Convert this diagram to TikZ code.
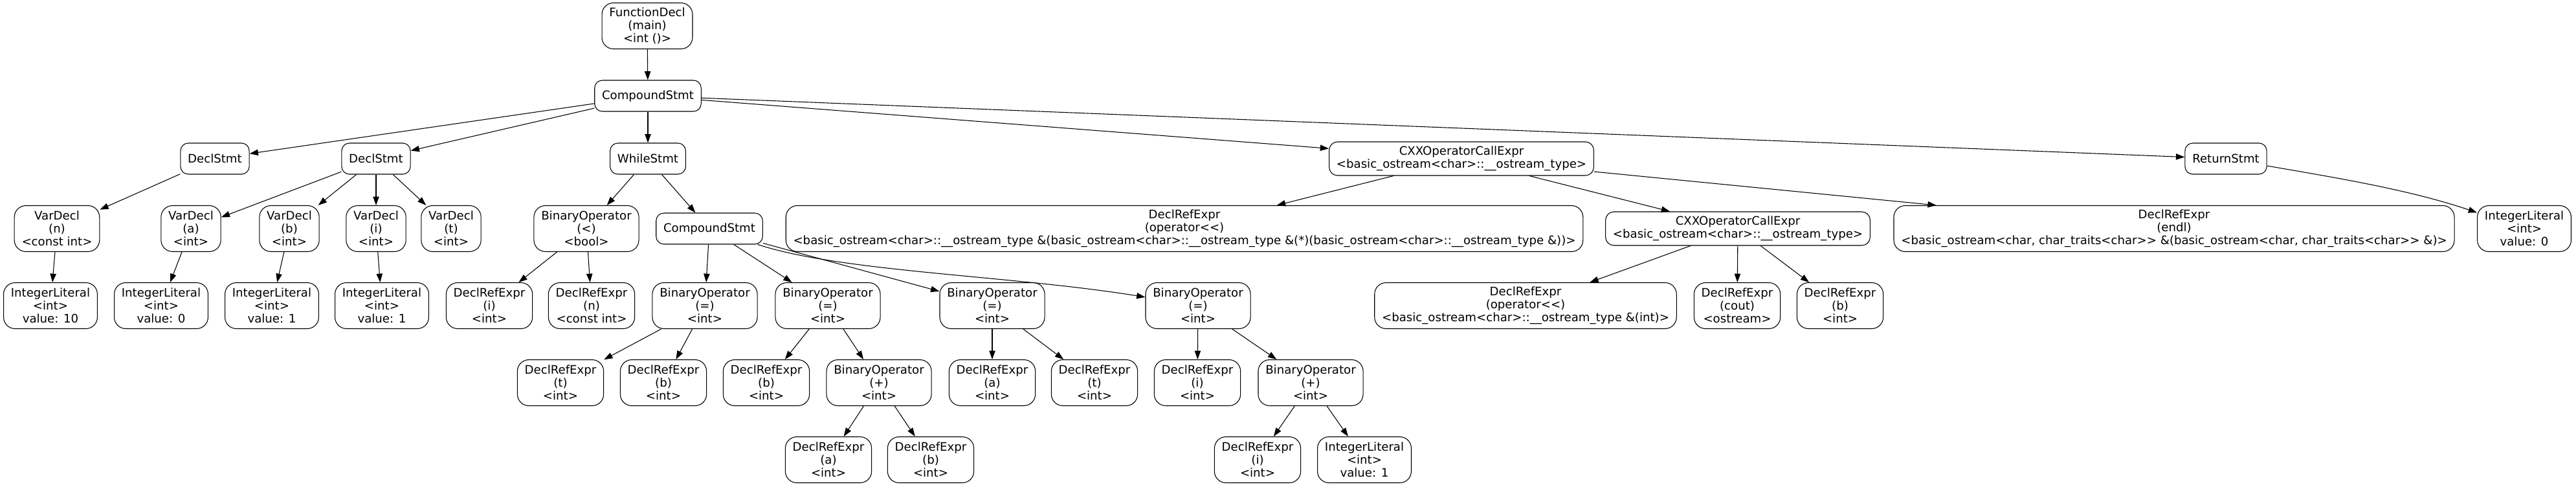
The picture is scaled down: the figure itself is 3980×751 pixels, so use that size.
\documentclass[tikz,border=0pt]{standalone}
\usepackage{fontspec}
\setmainfont{DejaVu Sans}[Ligatures=TeXOff]
\usepackage{tikz}
\usetikzlibrary{arrows.meta}

\tikzset{
  ast/.style={draw, line width=0.8pt, rounded corners=9pt, align=center,
    inner xsep=8.5pt, inner ysep=4pt, minimum height=36pt, minimum width=54pt,
    font=\fontsize{13.6pt}{15pt}\selectfont},
  asttwo/.style={ast, rounded corners=9.75pt, minimum height=39pt},
  astthree/.style={ast, rounded corners=13.3pt, minimum height=53.25pt},
  edge/.style={line width=0.8pt, -{Triangle[length=10pt,width=7pt]}}
}

\begin{document}
\begin{tikzpicture}[x=0.75pt,y=-0.75pt]
\useasboundingbox (0,0) rectangle (3980,751);

\node[astthree] (fdecl) at (1000,40) {FunctionDecl\\(main)\\<int ()>};
\node[ast] (cstmt) at (1001,148) {CompoundStmt};

\node[ast] (dstmtA) at (332,245) {DeclStmt};
\node[ast] (dstmtB) at (581,245) {DeclStmt};
\node[ast] (wstmt) at (1001,245) {WhileStmt};
\node[asttwo] (opcall) at (2258,245) {CXXOperatorCallExpr\\<basic\_ostream<char>::\_\_ostream\_type>};
\node[ast] (rstmt) at (3439,245) {ReturnStmt};

\node[astthree] (vdN) at (88,353) {VarDecl\\(n)\\<const int>};
\node[astthree] (vdA) at (295,353) {VarDecl\\(a)\\<int>};
\node[astthree] (vdB) at (447,353) {VarDecl\\(b)\\<int>};
\node[astthree] (vdI) at (581,353) {VarDecl\\(i)\\<int>};
\node[astthree] (vdT) at (697,353) {VarDecl\\(t)\\<int>};
\node[astthree] (binLt) at (906,353) {BinaryOperator\\(<)\\<bool>};
\node[ast] (cstmtB) at (1096,353) {CompoundStmt};
\node[astthree] (refShl) at (1830,353) {DeclRefExpr\\(operator<<)\\<basic\_ostream<char>::\_\_ostream\_type \&(basic\_ostream<char>::\_\_ostream\_type \&(*)(basic\_ostream<char>::\_\_ostream\_type \&))>};
\node[asttwo] (opcallB) at (2685,353) {CXXOperatorCallExpr\\<basic\_ostream<char>::\_\_ostream\_type>};
\node[astthree] (refEndl) at (3359,353) {DeclRefExpr\\(endl)\\<basic\_ostream<char, char\_traits<char>> \&(basic\_ostream<char, char\_traits<char>> \&)>};
\node[astthree] (litZero) at (3900,353) {IntegerLiteral\\<int>\\value: 0};

\node[astthree] (litTen) at (78,472) {IntegerLiteral\\<int>\\value: 10};
\node[astthree] (litA) at (249,472) {IntegerLiteral\\<int>\\value: 0};
\node[astthree] (litB) at (420,472) {IntegerLiteral\\<int>\\value: 1};
\node[astthree] (litI) at (590,472) {IntegerLiteral\\<int>\\value: 1};
\node[astthree] (refI) at (756,472) {DeclRefExpr\\(i)\\<int>};
\node[astthree] (refN) at (914,472) {DeclRefExpr\\(n)\\<const int>};
\node[astthree] (asgA) at (1089,472) {BinaryOperator\\(=)\\<int>};
\node[astthree] (asgB) at (1279,472) {BinaryOperator\\(=)\\<int>};
\node[astthree] (asgC) at (1533,472) {BinaryOperator\\(=)\\<int>};
\node[astthree] (asgD) at (1851,472) {BinaryOperator\\(=)\\<int>};
\node[astthree] (refShlInt) at (2357,472) {DeclRefExpr\\(operator<<)\\<basic\_ostream<char>::\_\_ostream\_type \&(int)>};
\node[astthree] (refCout) at (2684,472) {DeclRefExpr\\(cout)\\<ostream>};
\node[astthree] (refB) at (2843,472) {DeclRefExpr\\(b)\\<int>};

\node[astthree] (refT) at (866,591) {DeclRefExpr\\(t)\\<int>};
\node[astthree] (refBa) at (1025,591) {DeclRefExpr\\(b)\\<int>};
\node[astthree] (refBb) at (1184,591) {DeclRefExpr\\(b)\\<int>};
\node[astthree] (addA) at (1358,591) {BinaryOperator\\(+)\\<int>};
\node[astthree] (refAa) at (1533,591) {DeclRefExpr\\(a)\\<int>};
\node[astthree] (refTa) at (1691,591) {DeclRefExpr\\(t)\\<int>};
\node[astthree] (refIa) at (1850,591) {DeclRefExpr\\(i)\\<int>};
\node[astthree] (addB) at (2025,591) {BinaryOperator\\(+)\\<int>};

\node[astthree] (refAb) at (1280,710) {DeclRefExpr\\(a)\\<int>};
\node[astthree] (refBc) at (1438,710) {DeclRefExpr\\(b)\\<int>};
\node[astthree] (refIb) at (1943,710) {DeclRefExpr\\(i)\\<int>};
\node[astthree] (litOne) at (2108,710) {IntegerLiteral\\<int>\\value: 1};

\draw[edge] (fdecl) -- (cstmt);
\draw[edge] (cstmt) -- (dstmtA);
\draw[edge] (cstmt) -- (dstmtB);
\draw[edge] (cstmt) -- (wstmt);
\draw[edge] (cstmt) -- (opcall);
\draw[edge] (cstmt) -- (rstmt);

\draw[edge] (dstmtA) -- (vdN);
\draw[edge] (dstmtB) -- (vdA);
\draw[edge] (dstmtB) -- (vdB);
\draw[edge] (dstmtB) -- (vdI);
\draw[edge] (dstmtB) -- (vdT);
\draw[edge] (vdN) -- (litTen);
\draw[edge] (vdA) -- (litA);
\draw[edge] (vdB) -- (litB);
\draw[edge] (vdI) -- (litI);

\draw[edge] (wstmt) -- (binLt);
\draw[edge] (wstmt) -- (cstmtB);
\draw[edge] (binLt) -- (refI);
\draw[edge] (binLt) -- (refN);
\draw[edge] (cstmtB) -- (asgA);
\draw[edge] (cstmtB) -- (asgB);
\draw[edge] (cstmtB) -- (asgC);
\draw[edge] (cstmtB) .. controls (1300,420) and (1560,425) .. (asgD);
\draw[edge] (asgA) -- (refT);
\draw[edge] (asgA) -- (refBa);
\draw[edge] (asgB) -- (refBb);
\draw[edge] (asgB) -- (addA);
\draw[edge] (addA) -- (refAb);
\draw[edge] (addA) -- (refBc);
\draw[edge] (asgC) -- (refAa);
\draw[edge] (asgC) -- (refTa);
\draw[edge] (asgD) -- (refIa);
\draw[edge] (asgD) -- (addB);
\draw[edge] (addB) -- (refIb);
\draw[edge] (addB) -- (litOne);

\draw[edge] (opcall) -- (refShl);
\draw[edge] (opcall) -- (opcallB);
\draw[edge] (opcall) -- (refEndl);
\draw[edge] (opcallB) -- (refShlInt);
\draw[edge] (opcallB) -- (refCout);
\draw[edge] (opcallB) -- (refB);
\draw[edge] (rstmt) .. controls (3600,273) and (3720,292) .. (litZero);
\end{tikzpicture}
\end{document}
